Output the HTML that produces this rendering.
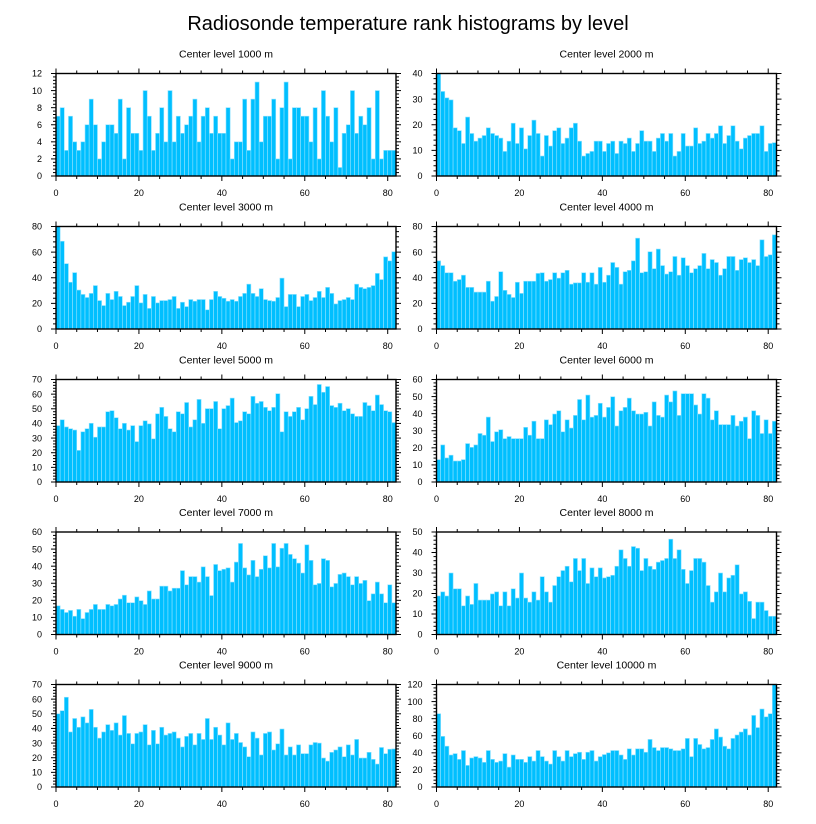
<!DOCTYPE html>
<html><head><meta charset="utf-8"><style>
html,body{margin:0;padding:0;background:#fff;}
svg{display:block;font-family:"Liberation Sans",sans-serif;}
</style></head><body>
<svg id="chart" width="816" height="824" viewBox="0 0 816 824">
<text x="408" y="30" font-size="20" text-anchor="middle" fill="#000">Radiosonde temperature rank histograms by level</text>
</svg>
<script>
const levels = [1000,2000,3000,4000,5000,6000,7000,8000,9000,10000];
const yMax = [12,40,80,80,70,60,60,50,70,120];
const yStep = [2,10,20,20,10,10,10,10,10,20];
const xTicks = [0,20,40,60,80];
const s1000 = [7,8,3,7,4,3,4,6,9,6,2,4,6,6,5,9,2,8,5,5,3,10,7,3,5,8,4,10,4,7,5,6,7,9,4,7,8,5,7,5,5,8,2,4,4,9,3,9,11,4,7,7,9,2,8,11,2,8,8,7,7,4,8,2,10,7,4,8,1,5,6,10,5,7,6,8,2,10,2,3,3,3];
const s2000 = [40,33,30.5,29.7,18.8,17.7,12.7,23,16.6,13.6,14.8,15.8,18.8,16.6,15.8,14.8,9.6,13.6,20.6,12.7,18.8,10.6,15.8,21.8,16.6,7.8,15.8,11.7,17.7,18.8,12.7,14.8,18.8,20.6,13.6,7.8,8.8,9.6,13.6,13.6,9.6,12.7,13.6,8.8,13.6,12.7,14.8,9.6,12.7,17.7,13.6,13.6,9.6,14.8,16.6,13.6,16.6,7.8,9.6,16.6,11.7,11.7,18.8,12.7,13.6,16.6,14.8,16.6,19.6,12.7,15.8,19.6,13.6,10.6,14.8,15.8,16.6,16.6,19.6,9.6,12.7,13];
const s3000 = [80,68.5,51,36.5,44,30.4,27,24.6,27.8,33.9,22.2,18.3,27.8,23,29.4,25.4,18.3,20.9,25.4,33.9,20.4,27,16.1,25.4,20.4,22.2,22.2,23,25.4,16.1,20.9,17.5,23,21.7,23,23,15,23,29.4,25.4,24,21.7,23,21.7,25.4,27.8,35,27.8,25.4,31.5,23,22.2,21.7,24.6,39.7,17.5,27,27,17.5,25.4,27,22.2,24.6,29.4,24.6,32.5,27.8,19.6,22.2,23,24.6,23,35,32.5,31.5,32.5,33.9,43.4,38.6,56.3,53.2,60.3];
const s4000 = [53.2,49.5,43.9,43.9,37.3,38.6,42,32.5,32.5,28.8,28.8,28.8,37.3,21.7,25.4,44.7,30.2,27,24.6,36.5,27.8,37.3,37.3,37.3,43.4,43.9,37.3,38.6,43.9,39.7,43.9,45.8,35,36,36,43.9,36.5,43.9,35,48.1,36.5,42,51.9,48.1,35,44.7,45.8,53.2,70.9,43.9,44.7,60.3,47.1,62.4,49.5,42.9,44.7,56.6,42,55.6,49.5,43.9,47.1,49.5,59,47.1,54.2,51.9,42,47.1,56.6,56.6,45.8,54.2,55.6,51.9,54.2,49.5,69.6,56.6,57.9,73.5];
const s5000 = [38.5,42.5,37.6,36.4,35.5,21.6,34.3,36.4,40.1,30.6,37.6,37.6,48,48.7,43.9,36.4,40.1,35.5,38.5,27.6,38.5,41.8,39.7,29.5,46.6,51,44.8,36.4,34.3,48,46.6,54.3,37.6,42.5,56.4,40.1,50.1,50.1,55,36.4,50.1,52.2,57.3,40.6,41.8,48,46.6,58.5,53.8,55,51,48.7,51,60.3,34.3,48,44.8,48,51,42.5,50.1,58.5,52.9,66.6,61.3,65.2,52.2,51,53.8,48.7,50.1,46.6,44.8,44.8,54.3,52.2,48.7,59.4,52.9,48.7,48,40.6];
const s6000 = [13.1,21.7,14.1,15.7,12.3,12.3,13.1,22.5,20.3,21.7,28.4,27.4,38,23.7,29.4,30.6,25.4,26.6,25.4,25.4,25.4,32,27.4,35.6,25.4,25.4,36.4,33.6,39.8,41.7,29.4,36.4,31.6,39,48.3,36.4,50.9,38,39,46.1,38,43.7,49.9,32.8,41.7,43.7,49.1,41.7,39.8,39.8,40.8,32.8,46.9,39,38,50.9,46.9,53.3,39,51.7,51.7,51.7,45.1,39.8,51.7,49.1,36.4,41.7,33.6,33.6,33.6,39,32.8,35.6,38,25.4,41.7,39,28.4,36.4,28.4,35.6];
const s7000 = [16.8,14.7,12.9,14.1,10.7,14.7,9.3,12.9,14.7,17.6,14.7,14.7,17.6,16.8,17.6,20.8,23,18.6,18.6,22,19.8,17.6,25.5,20.8,20.8,28.3,28.3,25.5,27.1,27.1,37.4,29.1,33.9,33.9,30.7,39.6,33.9,22.8,41,37.4,38.2,39,30.7,42.4,53.3,39,34.9,43.4,33.9,38.2,46.1,39,53.3,39.6,50.5,53.3,46.9,44.4,41.8,36,52.5,43.4,29.1,29.9,44.4,43.4,27.9,29.9,35.2,36,33.9,29.1,33.9,29.9,31.7,19.8,23.8,30.7,23.8,18.6,29.1,18.6];
const s8000 = [18.8,20.8,18.8,30,22.3,22.3,14,18.8,14.7,24.9,16.8,16.8,16.8,19.8,20.8,14,20.8,14,22.3,17.8,30,17.8,15.8,20.8,16.8,28.2,20.8,15.8,23.9,28.2,31.2,33.3,25.7,37.1,31.2,37.1,24.9,32.5,28.2,32.5,27.6,28.2,28.9,33.3,41.3,37.1,33.3,42.9,42.1,31.2,37.1,33.3,31.8,35.3,36.1,37.1,46.5,37.1,41.3,31.8,24.9,31.2,37.1,37.1,35.3,23.9,15.8,20.8,30,20.8,27.6,28.9,34,19.8,20.8,16.2,7.8,15.8,15.8,11.7,8.9,8.9];
const s9000 = [50,52.1,61.3,37.6,46.8,40.8,47.9,43.8,53,40.8,33.4,37.6,42.6,38.7,43.8,35.5,48.8,36.6,29.5,36.6,37.6,42.6,28.8,38.7,29.5,40.8,35.5,36.6,37.6,33.4,27.4,34.6,36.6,28.8,36.6,32.5,46.8,32.5,40.8,35.5,28.8,43.8,32.5,36.6,30.4,27.4,20.7,37.6,33.4,21.9,36.6,37.6,25.3,29.5,39.6,21.9,27.4,21.9,28.8,22.8,22.8,28.8,30.4,30,19.8,17.7,23.7,25.3,27.4,20.7,28.8,21.9,32.5,19.8,19.8,23.7,18.9,15.7,27,22.8,25.8,26];
const s10000 = [85.8,59.3,47.8,37.5,39.1,32.4,42.7,25.3,34,35.6,34,28.9,42.7,32.4,28.9,30.4,39.1,23.3,37.5,32.4,32.4,28.9,35.6,30.4,42.7,35.6,30.4,26.9,42.7,35.6,30.4,42.7,35.6,39.1,40.7,32.4,40.7,42.7,30.4,35.6,38,40,42.7,42.7,37.5,32.4,44.7,37.5,44.7,44.7,40.7,55.7,46.2,42.7,46.2,46.2,44.7,42.7,42.7,44.7,56.9,35.6,56.9,49.8,44.7,46.2,55.7,68,58.5,47.8,44.7,56.9,60.9,64.4,68,60.9,83.8,69.6,91.3,82.2,85.8,120];
const series = [s1000,s2000,s3000,s4000,s5000,s6000,s7000,s8000,s9000,s10000];

const NS = 'http://www.w3.org/2000/svg';
const svg = document.getElementById('chart');
function mk(tag, attrs, parent){
  const e = document.createElementNS(NS, tag);
  for (const k in attrs) e.setAttribute(k, attrs[k]);
  (parent||svg).appendChild(e);
  return e;
}
const colX = [56, 436.5];
const rowY = [73.5, 226.5, 379.5, 532, 684.5];
const W = 340, H = 102.5, XMAX = 82;

for (let p = 0; p < 10; p++) {
  const x0 = colX[p % 2], y0 = rowY[Math.floor(p / 2)];
  const ym = yMax[p];
  const sx = v => x0 + v / XMAX * W;
  const sy = v => y0 + H - v / ym * H;
  const g = mk('g', {});
  
  

  const t = mk('text', {x: x0 + W / 2, y: y0 - 16, 'font-size': 10.5, 'text-anchor': 'middle'}, g);
  t.textContent = 'Center level ' + levels[p] + ' m';
  
  

  series[p].forEach((v, i) => {
    const b = mk('rect', {x: sx(i), y: sy(v), width: sx(i + 1) - sx(i), height: sy(0) - sy(v), fill: '#00bfff', stroke: '#8fe2ff', 'stroke-width': 0.6}, g);
    
    
  });

  const fr = mk('rect', {x: x0, y: y0, width: W, height: H, fill: 'none', stroke: '#000', 'stroke-width': 1.4}, g);
  
  

  for (let v = 0; v <= 80; v += 5) {
    const major = v % 20 === 0, L = major ? 5 : 3, x = sx(v);
    mk('line', {x1: x, x2: x, y1: y0 + H, y2: y0 + H + L, stroke: '#000', 'stroke-width': 1}, g);
    mk('line', {x1: x, x2: x, y1: y0, y2: y0 - L, stroke: '#000', 'stroke-width': 1}, g);
  }
  xTicks.forEach(v => {
    const tl = mk('text', {x: sx(v), y: y0 + H + 20, 'font-size': 9, 'text-anchor': 'middle'}, g);
    tl.textContent = v;
    
    
  });
  const st = yStep[p], minor = st / 5;
  for (let k = 0; k * minor <= ym + 1e-9; k++) {
    const v = k * minor, major = k % 5 === 0, L = major ? 5 : 3, y = sy(v);
    mk('line', {x1: x0, x2: x0 - L, y1: y, y2: y, stroke: '#000', 'stroke-width': 1}, g);
    mk('line', {x1: x0 + W, x2: x0 + W + L, y1: y, y2: y, stroke: '#000', 'stroke-width': 1}, g);
    if (major) {
      const yl = mk('text', {x: x0 - 14, y: y + 3.2, 'font-size': 9, 'text-anchor': 'end'}, g);
      yl.textContent = Math.round(v);
      
      
    }
  }
}
</script>
</body></html>
